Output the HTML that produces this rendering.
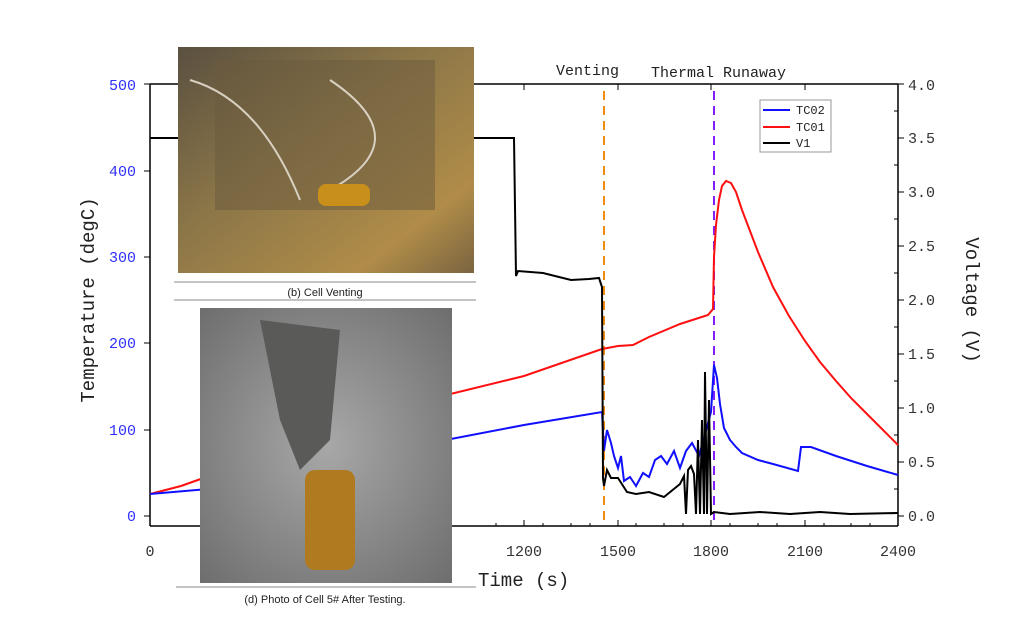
<!DOCTYPE html>
<html><head><style>
body{margin:0;background:#fff;width:1024px;height:628px;overflow:hidden}
svg text{font-family:"Liberation Mono","DejaVu Sans Mono",monospace}
</style></head><body>
<svg width="1024" height="628" viewBox="0 0 1024 628" xmlns="http://www.w3.org/2000/svg">
<defs>
<linearGradient id="g1" x1="0" y1="0" x2="1" y2="1">
<stop offset="0" stop-color="#5a5040"/><stop offset="0.4" stop-color="#8a7548"/><stop offset="0.8" stop-color="#b08c48"/><stop offset="1" stop-color="#7a6440"/></linearGradient>
<radialGradient id="g2" cx="0.5" cy="0.5" r="0.7">
<stop offset="0" stop-color="#a8a8a8"/><stop offset="1" stop-color="#6e6e6e"/></radialGradient>
</defs>
<g stroke="#000" stroke-width="1.5" fill="none">
<line x1="150" y1="84" x2="898" y2="84"/>
<line x1="150" y1="526" x2="898" y2="526"/>
<line x1="150" y1="84" x2="150" y2="526"/>
<line x1="898" y1="84" x2="898" y2="526"/>
</g>
<g stroke="#000" stroke-width="1">
<path d="M524 526v-6M618 526v-6M711 526v-6M805 526v-6M524 84v6M618 84v6M711 84v6M805 84v6M571 526v-3M664 526v-3M758 526v-3M851 526v-3M496 526v-3M543 526v-3M590 526v-3M636 526v-3M683 526v-3M730 526v-3M777 526v-3M824 526v-3M870 526v-3"/>
<path d="M898 516h6M898 462h6M898 408h6M898 354h6M898 300h6M898 246h6M898 192h6M898 138h6M898 84h6M898 489h-4M898 435h-4M898 381h-4M898 327h-4M898 273h-4M898 219h-4M898 165h-4M898 111h-4"/>
<path d="M150 516h-6M150 430h-6M150 343h-6M150 257h-6M150 171h-6M150 84h-6"/>
</g>
<g fill="#3030ff" font-size="15" text-anchor="end">
<text x="136" y="521">0</text><text x="136" y="435">100</text><text x="136" y="348">200</text><text x="136" y="262">300</text><text x="136" y="176">400</text><text x="136" y="90">500</text>
</g>
<g fill="#333" font-size="15">
<text x="908" y="521">0.0</text><text x="908" y="467">0.5</text><text x="908" y="413">1.0</text><text x="908" y="359">1.5</text><text x="908" y="305">2.0</text><text x="908" y="251">2.5</text><text x="908" y="197">3.0</text><text x="908" y="143">3.5</text><text x="908" y="90">4.0</text>
</g>
<g fill="#333" font-size="15" text-anchor="middle">
<text x="150" y="556">0</text><text x="524" y="556">1200</text><text x="618" y="556">1500</text><text x="711" y="556">1800</text><text x="805" y="556">2100</text><text x="898" y="556">2400</text>
</g>
<text x="478" y="586" font-size="19" fill="#222">Time (s)</text>
<text transform="translate(94,300) rotate(-90)" font-size="19" fill="#222" text-anchor="middle">Temperature (degC)</text>
<text transform="translate(966,300) rotate(90)" font-size="19" fill="#222" text-anchor="middle">Voltage (V)</text>
<text x="556" y="75" font-size="15" fill="#222">Venting</text>
<text x="651" y="77" font-size="15" fill="#222">Thermal Runaway</text>
<line x1="604" y1="91" x2="604" y2="526" stroke="#f08c10" stroke-width="2" stroke-dasharray="9,6"/>
<line x1="714" y1="91" x2="714" y2="526" stroke="#8020ff" stroke-width="2" stroke-dasharray="9,6"/>
<polyline fill="none" stroke="#ff1010" stroke-width="2" points="150,494 181,486 243,464 337,430 430,399 524,376 602,349 618,346 633,345 649,337 680,324 708,315 713,309 714,257 716,225 719,200 722,186 726,181 731,183 736,192 742,210 758,252 773,287 789,316 805,341 820,362 836,381 851,398 867,414 883,430 898,445"/>
<polyline fill="none" stroke="#1010ff" stroke-width="2" points="150,494 243,486 337,468 430,443 524,425 602,412 604,451 607,430 611,443 614,456 618,468 621,456 624,481 630,477 636,486 643,473 649,477 655,460 661,456 667,464 674,451 680,468 686,451 692,443 699,456 705,434 711,412 714,365 717,378 720,404 724,428 730,440 736,447 742,453 758,460 773,464 798,471 801,447 811,447 836,456 867,466 898,475"/>
<polyline fill="none" stroke="#000" stroke-width="2" points="150,138 514,138 516,276 518,271 543,273 571,280 589,279 599,278 602,287 603,478 604,486 607,470 611,478 618,478 627,492 636,494 649,492 664,497 680,484 684,476 686,514 688,470 691,466 694,474 696,514 698,440 700,514 702,420 704,514 705,372 707,514 709,400 711,514 714,512 730,514 760,512 790,514 820,512 850,514 898,513"/>
<rect x="760" y="100" width="71" height="52" fill="#fff" stroke="#999"/>
<line x1="763" y1="110" x2="790" y2="110" stroke="#1010ff" stroke-width="2"/>
<line x1="763" y1="127" x2="790" y2="127" stroke="#ff1010" stroke-width="2"/>
<line x1="763" y1="143" x2="790" y2="143" stroke="#000" stroke-width="2"/>
<g font-size="12" fill="#222"><text x="796" y="114">TC02</text><text x="796" y="131">TC01</text><text x="796" y="147">V1</text></g>
<rect x="178" y="47" width="296" height="226" fill="url(#g1)"/>
<rect x="215" y="60" width="220" height="150" fill="#6a5a3e" opacity="0.5"/>
<path d="M190 80 Q260 100 300 200 M330 80 Q420 140 330 190" stroke="#d8d0c0" stroke-width="2" fill="none"/>
<rect x="318" y="184" width="52" height="22" rx="8" fill="#c8901a"/>
<line x1="174" y1="282" x2="476" y2="282" stroke="#888"/>
<line x1="174" y1="300" x2="476" y2="300" stroke="#888"/>
<text x="325" y="296" font-size="11" text-anchor="middle" style="font-family:'Liberation Sans',sans-serif" fill="#222">(b) Cell Venting</text>
<rect x="200" y="308" width="252" height="275" fill="url(#g2)"/>
<path d="M260 320 L340 330 L330 440 L300 470 L280 420 Z" fill="#5a5a58"/>
<rect x="305" y="470" width="50" height="100" rx="10" fill="#b07a20"/>
<line x1="176" y1="587" x2="476" y2="587" stroke="#888"/>
<text x="325" y="603" font-size="11" text-anchor="middle" style="font-family:'Liberation Sans',sans-serif" fill="#222">(d) Photo of Cell 5# After Testing.</text>
</svg>
</body></html>
